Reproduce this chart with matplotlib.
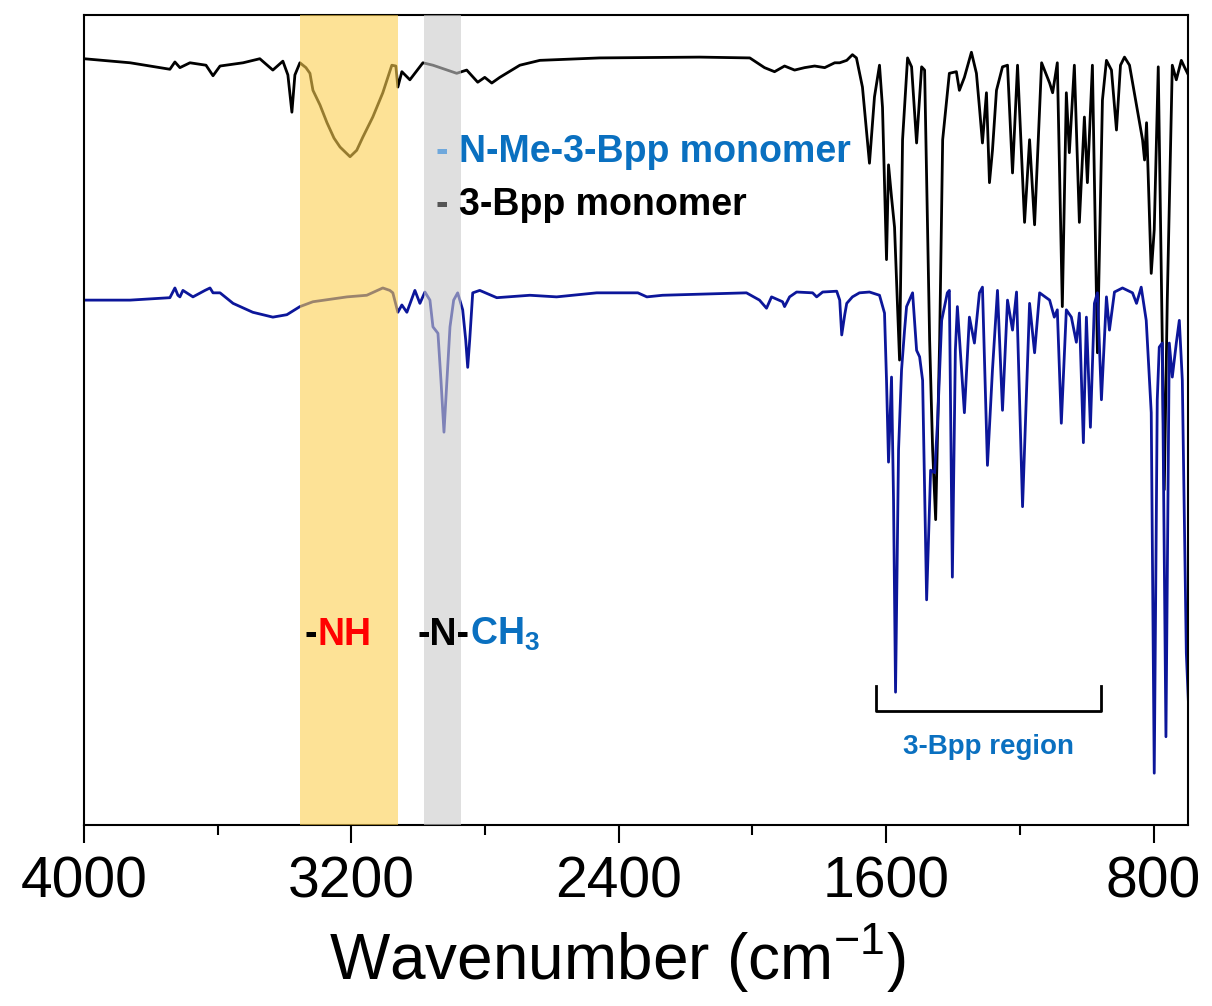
import matplotlib.pyplot as plt

plt.rcParams['font.family'] = ['Liberation Sans', 'DejaVu Sans']
plt.rcParams['mathtext.fontset'] = 'custom'
plt.rcParams['mathtext.rm'] = 'Liberation Sans'
plt.rcParams['mathtext.bf'] = 'Liberation Sans:bold'

# 3-Bpp monomer (upper trace)
black_wn = [4000, 3862, 3743, 3728, 3713, 3683, 3635, 3614, 3593, 3524,
            3474, 3435, 3405, 3390, 3378, 3369, 3354, 3336, 3324, 3315,
            3294, 3273, 3252, 3234, 3204, 3184, 3166, 3136, 3106, 3079,
            3067, 3061, 3049, 3025, 2986, 2956, 2885, 2855, 2822, 2801,
            2780, 2756, 2696, 2636, 2457, 2158, 2008, 1964, 1934, 1904,
            1874, 1844, 1814, 1784, 1754, 1739, 1718, 1701, 1689, 1671,
            1650, 1635, 1620, 1611, 1599, 1593, 1584, 1575, 1560, 1551,
            1536, 1524, 1509, 1494, 1485, 1470, 1461, 1452, 1440, 1431,
            1411, 1390, 1381, 1366, 1345, 1330, 1321, 1312, 1300, 1291,
            1282, 1270, 1252, 1237, 1222, 1207, 1186, 1171, 1156, 1135,
            1111, 1102, 1088, 1073, 1061, 1052, 1037, 1022, 1007, 998,
            983, 968, 953, 941, 926, 911, 899, 887, 872, 833,
            827, 821, 807, 798, 786, 774, 768, 759, 744, 732,
            717, 708, 696]
black_T = [94.6, 94.1, 93.3, 94.2, 93.5, 94.1, 93.8, 92.5, 93.7, 94.1,
           94.6, 93.2, 94.3, 92.6, 88.0, 92.6, 94.1, 93.5, 92.8, 90.7,
           88.9, 86.7, 84.8, 83.7, 82.5, 83.3, 84.9, 87.4, 90.4, 93.8,
           93.7, 91.1, 93.0, 92.0, 94.1, 93.8, 92.8, 93.2, 91.7, 92.3,
           91.6, 92.3, 93.8, 94.4, 94.7, 94.8, 94.7, 93.5, 93.0, 93.7,
           93.2, 93.5, 93.7, 93.5, 94.1, 94.1, 94.4, 95.1, 94.7, 91.1,
           81.7, 89.9, 93.8, 88.6, 69.8, 81.5, 77.5, 73.8, 57.4, 84.6,
           94.7, 93.6, 84.2, 93.6, 93.2, 59.9, 46.3, 37.7, 59.9, 84.6,
           92.8, 93.0, 90.7, 92.3, 95.4, 92.8, 88.6, 84.2, 90.4, 79.3,
           83.3, 90.7, 93.6, 93.8, 80.5, 93.8, 74.4, 84.6, 74.1, 94.1,
           91.6, 90.4, 94.1, 64.0, 90.4, 83.0, 93.8, 74.4, 87.4, 79.3,
           93.8, 58.3, 89.5, 94.4, 93.2, 85.8, 93.8, 94.8, 93.8, 84.6,
           82.1, 86.7, 68.1, 73.5, 93.6, 59.9, 41.4, 64.8, 93.8, 92.0,
           94.4, 93.6, 92.6]

# N-Me-3-Bpp monomer (lower trace)
blue_wn = [4000, 3862, 3743, 3728, 3719, 3713, 3704, 3674, 3638, 3623,
           3614, 3593, 3554, 3495, 3435, 3393, 3354, 3315, 3213, 3154,
           3106, 3085, 3076, 3061, 3049, 3034, 3010, 2995, 2980, 2965,
           2956, 2941, 2932, 2923, 2914, 2905, 2894, 2882, 2867, 2858,
           2852, 2846, 2837, 2816, 2765, 2666, 2586, 2466, 2343, 2316,
           2269, 2018, 1979, 1958, 1943, 1910, 1904, 1889, 1868, 1820,
           1808, 1790, 1748, 1739, 1733, 1724, 1718, 1701, 1680, 1650,
           1620, 1605, 1599, 1593, 1584, 1578, 1572, 1563, 1554, 1545,
           1539, 1521, 1509, 1500, 1491, 1479, 1467, 1455, 1446, 1434,
           1417, 1411, 1402, 1393, 1387, 1366, 1351, 1336, 1321, 1312,
           1297, 1282, 1267, 1252, 1237, 1222, 1210, 1192, 1171, 1156,
           1141, 1111, 1097, 1088, 1076, 1061, 1046, 1031, 1022, 1010,
           1001, 989, 977, 968, 956, 941, 932, 917, 893, 863,
           851, 837, 822, 807, 798, 789, 783, 774, 763, 753,
           744, 732, 723, 714, 702, 696]
blue_T = [64.8, 64.8, 65.1, 66.3, 65.4, 65.2, 66.0, 65.2, 66.0, 66.3,
          65.7, 65.7, 64.4, 63.3, 62.7, 63.0, 64.0, 64.6, 65.2, 65.4,
          66.3, 66.0, 65.7, 63.3, 64.2, 63.3, 66.0, 64.4, 65.8, 64.8,
          61.5, 60.7, 54.9, 48.5, 54.9, 61.5, 64.8, 65.7, 63.6, 59.9,
          56.5, 59.9, 65.7, 66.0, 65.1, 65.4, 65.2, 65.7, 65.7, 65.2,
          65.4, 65.7, 64.8, 63.8, 65.2, 64.6, 64.0, 65.2, 65.8, 65.7,
          65.2, 65.8, 65.9, 64.8, 60.5, 63.0, 64.4, 65.2, 65.7, 65.8,
          65.4, 63.2, 54.9, 44.8, 55.3, 40.1, 16.4, 46.3, 56.2, 61.1,
          64.0, 65.7, 58.6, 57.8, 54.9, 27.8, 43.8, 43.5, 50.0, 62.3,
          65.7, 66.0, 30.6, 58.6, 64.0, 50.9, 62.7, 59.5, 65.7, 66.4,
          44.4, 56.2, 66.0, 51.2, 64.8, 61.1, 65.8, 39.3, 64.4, 58.3,
          65.7, 64.8, 62.7, 63.6, 49.6, 63.6, 62.7, 59.6, 63.2, 47.2,
          62.7, 49.1, 64.4, 65.7, 52.5, 65.2, 61.1, 65.8, 66.3, 65.7,
          64.4, 66.4, 62.3, 50.9, 6.4, 52.5, 59.0, 59.5, 10.9, 59.5,
          55.3, 59.5, 62.3, 54.9, 21.2, 15.4]

major_ticks = [4000, 3200, 2400, 1600, 800]
minor_ticks = [3600, 2800, 2000, 1200]

nh_band = (3354, 3061)
nch3_band = (2983, 2873)
bpp_region = (1629, 958)

BLUE_TXT = '#0a70c0'

fig = plt.figure(figsize=(12.12, 10.06), dpi=100)
ax = fig.add_axes([0.0693, 0.1799, 0.9109, 0.8052])

ax.plot(black_wn, black_T, color='black', lw=2.0, zorder=2)
ax.plot(blue_wn, blue_T, color='#0c169a', lw=2.0, zorder=2)
ax.axvspan(*nh_band, color='#fccf50', alpha=0.6, lw=0, zorder=3)
ax.axvspan(*nch3_band, color='#cbcbcb', alpha=0.6, lw=0, zorder=3)

ax.set_xlim(4000, 697)
ax.set_ylim(0, 100)
ax.set_xticks(major_ticks)
ax.set_xticks(minor_ticks, minor=True)
ax.set_yticks([])
ax.tick_params(axis='x', which='major', length=13, width=1.5, labelsize=41, pad=9)
ax.tick_params(axis='x', which='minor', length=7, width=1.5)
for s in ax.spines.values():
    s.set_linewidth(1.5)
ax.set_xlabel('Wavenumber (cm$^{-1}$)', fontsize=46)
ax.xaxis.set_label_coords(0.483, -0.119)

# legend-like labels, drawn piece by piece for the colours
bold = dict(fontsize=27, fontweight='bold', va='baseline', ha='left')
t = ax.text(2946, 81.9, '- ', color='#6fa8dc', **bold)
ax.annotate('N-Me-3-Bpp monomer', xy=(1, 81.9), xycoords=(t, 'data'), color=BLUE_TXT, **bold)
t = ax.text(2946, 75.3, '- ', color='#555555', **bold)
ax.annotate('3-Bpp monomer', xy=(1, 75.3), xycoords=(t, 'data'), color='black', **bold)

t = ax.text(3339, 22.2, '-', color='black', **bold)
ax.annotate('NH', xy=(1, 22.2), xycoords=(t, 'data'), color='#ff0000', **bold)
t = ax.text(3001, 22.2, '-N-', color='black', **bold)
ax.annotate(r'CH$_{\mathbf{3}}$', xy=(1, 22.2), xycoords=(t, 'data'), color=BLUE_TXT, **bold)

# bracket for the 3-Bpp region
x0, x1 = bpp_region
ax.plot([x0, x0, x1, x1], [17.2, 14.1, 14.1, 17.2], color='black', lw=2)
ax.text((x0 + x1) / 2, 8.8, '3-Bpp region', color=BLUE_TXT, fontsize=20,
        fontweight='bold', ha='center', va='baseline')

fig.savefig('out.png', dpi=100)
